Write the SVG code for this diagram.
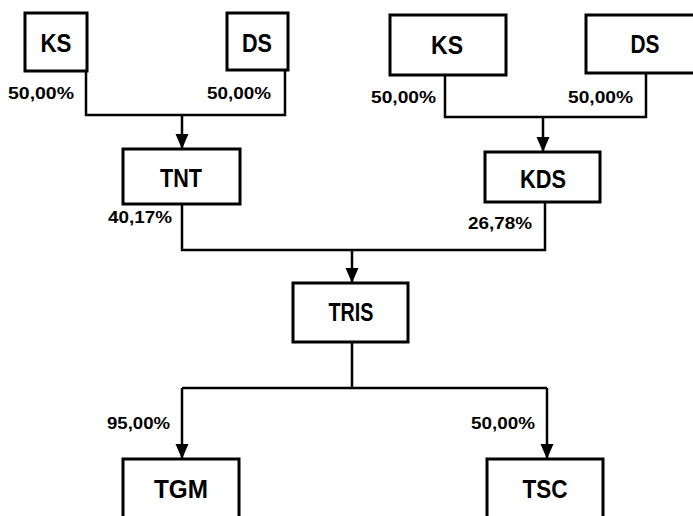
<svg xmlns="http://www.w3.org/2000/svg" width="693" height="516" viewBox="0 0 693 516">
<style>
.box{fill:#fff;stroke:#000;stroke-width:3}
.lbl{font-family:"Liberation Sans",Arial,sans-serif;font-size:25px;font-weight:bold;text-anchor:middle;dominant-baseline:central;fill:#000}
.pct{font-family:"Liberation Sans",Arial,sans-serif;font-size:17px;font-weight:bold;dominant-baseline:central;fill:#000}
.ln{fill:none;stroke:#000;stroke-width:2.5}
.arr{fill:none;stroke:#000;stroke-width:2.5;marker-end:url(#ah)}
</style>
<defs>
<marker id="ah" markerUnits="userSpaceOnUse" markerWidth="15" markerHeight="14" viewBox="0 0 15 14" refX="15" refY="7" orient="auto">
<path d="M0,0.5 L15,7 L0,13.5 z" fill="#000"/>
</marker>
</defs>
<rect width="693" height="516" fill="#fff"/>
<g id="connectors">
<path class="ln" d="M86,71 V115 H285 V70"/>
<path class="arr" d="M182,115 V149"/>
<path class="ln" d="M445,75 V117 H646 V73"/>
<path class="arr" d="M543,117 V152"/>
<path class="ln" d="M182,204 V250 H545 V202"/>
<path class="arr" d="M352,250 V283"/>
<path class="ln" d="M352,342 V388 M182,388 H547"/>
<path class="arr" d="M182,388 V459"/>
<path class="arr" d="M547,388 V459"/>
</g>
<g id="labels">
<text class="pct" x="8" y="93" textLength="66" lengthAdjust="spacingAndGlyphs">50,00%</text>
<text class="pct" x="207" y="93" textLength="64" lengthAdjust="spacingAndGlyphs">50,00%</text>
<text class="pct" x="371" y="97" textLength="65" lengthAdjust="spacingAndGlyphs">50,00%</text>
<text class="pct" x="568" y="97" textLength="65" lengthAdjust="spacingAndGlyphs">50,00%</text>
<text class="pct" x="108" y="217" textLength="64" lengthAdjust="spacingAndGlyphs">40,17%</text>
<text class="pct" x="468" y="223" textLength="64" lengthAdjust="spacingAndGlyphs">26,78%</text>
<text class="pct" x="107" y="423" textLength="63" lengthAdjust="spacingAndGlyphs">95,00%</text>
<text class="pct" x="471" y="423" textLength="64" lengthAdjust="spacingAndGlyphs">50,00%</text>
</g>
<g id="node-ks1"><rect class="box" x="25" y="13" width="62" height="58"/><text class="lbl" x="56" y="43" textLength="31" lengthAdjust="spacingAndGlyphs">KS</text></g>
<g id="node-ds1"><rect class="box" x="227" y="13" width="61" height="57"/><text class="lbl" x="257" y="43" textLength="30" lengthAdjust="spacingAndGlyphs">DS</text></g>
<g id="node-ks2"><rect class="box" x="390" y="15" width="116" height="60"/><text class="lbl" x="447" y="45" textLength="32" lengthAdjust="spacingAndGlyphs">KS</text></g>
<g id="node-ds2"><rect class="box" x="586" y="15" width="120" height="58"/><text class="lbl" x="645" y="44" textLength="29" lengthAdjust="spacingAndGlyphs">DS</text></g>
<g id="node-tnt"><rect class="box" x="123" y="149" width="117" height="55"/><text class="lbl" x="181" y="178" textLength="42" lengthAdjust="spacingAndGlyphs">TNT</text></g>
<g id="node-kds"><rect class="box" x="485" y="152" width="115" height="50"/><text class="lbl" x="543" y="179" textLength="46" lengthAdjust="spacingAndGlyphs">KDS</text></g>
<g id="node-tris"><rect class="box" x="293" y="283" width="115" height="59"/><text class="lbl" x="351" y="312" textLength="45" lengthAdjust="spacingAndGlyphs">TRIS</text></g>
<g id="node-tgm"><rect class="box" x="123" y="459" width="116" height="70"/><text class="lbl" x="181" y="489" textLength="54" lengthAdjust="spacingAndGlyphs">TGM</text></g>
<g id="node-tsc"><rect class="box" x="487" y="459" width="116" height="70"/><text class="lbl" x="545" y="489" textLength="45" lengthAdjust="spacingAndGlyphs">TSC</text></g>
</svg>
